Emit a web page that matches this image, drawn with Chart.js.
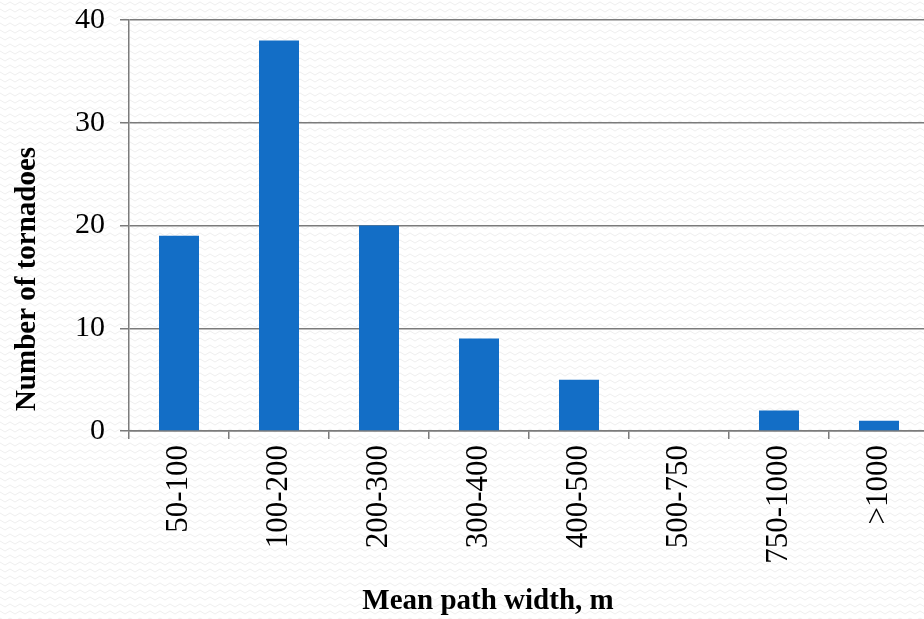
<!DOCTYPE html>
<html>
<head>
<meta charset="utf-8">
<script src="https://cdn.jsdelivr.net/npm/chart.js@4/dist/chart.umd.min.js"></script>
<style>
  html, body { margin: 0; padding: 0; overflow: hidden; background: #fff; }
  #c { display: block; }
</style>
</head>
<body>
<canvas id="c" width="932" height="619"></canvas>
<script>
const widthClasses = ["50-100", "100-200", "200-300", "300-400", "400-500", "500-750", "750-1000", ">1000"];
const tornadoCounts = [19, 38, 20, 9, 5, 0, 2, 1];
const countTicks = [0, 10, 20, 30, 40];

const serif = "'Liberation Serif', 'Times New Roman', serif";
const gridGray = '#7b7b7b';

// faint wavy paper texture behind everything
const paperBackground = {
    id: 'paperBackground',
    beforeDraw(chart) {
        const ctx = chart.ctx;
        ctx.save();
        ctx.fillStyle = '#ffffff';
        ctx.fillRect(0, 0, chart.width, chart.height);
        ctx.strokeStyle = '#efefef';
        ctx.lineWidth = 1;
        for (let y = 2; y < chart.height; y += 7) {
            ctx.beginPath();
            for (let x = 0; x <= chart.width; x += 5) {
                const yy = y + ((x / 5) % 2 === 0 ? 0 : 3);
                if (x === 0) ctx.moveTo(x, yy); else ctx.lineTo(x, yy);
            }
            ctx.stroke();
        }
        ctx.restore();
    }
};

// axis titles sit off-centre from the plot, so place them by hand
const axisTitles = {
    id: 'axisTitles',
    afterDraw(chart) {
        const ctx = chart.ctx;
        ctx.save();
        ctx.fillStyle = '#000';
        ctx.font = 'bold 29px ' + serif;
        ctx.textAlign = 'center';
        ctx.textBaseline = 'alphabetic';
        ctx.fillText('Mean path width, m', 488, 609);
        ctx.translate(35, 279);
        ctx.rotate(-Math.PI / 2);
        ctx.fillText('Number of tornadoes', 0, 0);
        ctx.restore();
    }
};

const ctx = document.getElementById('c').getContext('2d');

new Chart(ctx, {
    type: 'bar',
    data: {
        labels: widthClasses,
        datasets: [{
            data: tornadoCounts,
            backgroundColor: '#136ec6',
            borderWidth: 0,
            barPercentage: 0.4,
            categoryPercentage: 1.0
        }]
    },
    options: {
        responsive: false,
        animation: false,
        layout: { padding: { top: 20, right: 3, left: 1, bottom: 0 } },
        plugins: {
            legend: { display: false },
            tooltip: { enabled: false }
        },
        scales: {
            x: {
                afterFit(scale) {
                    scale.height = 188;
                    scale.paddingLeft = 0;
                    scale.paddingRight = 0;
                },
                grid: {
                    drawOnChartArea: false,
                    drawTicks: true,
                    tickLength: 8,
                    color: gridGray,
                    lineWidth: 1.5
                },
                border: { color: gridGray, width: 1.5 },
                ticks: {
                    color: '#000',
                    font: { family: serif, size: 31 },
                    minRotation: 90,
                    maxRotation: 90,
                    padding: 6,
                    autoSkip: false
                }
            },
            y: {
                min: 0,
                max: 40,
                afterFit(scale) {
                    scale.width = 128;
                    scale.paddingTop = 0;
                    scale.paddingBottom = 0;
                },
                afterBuildTicks(scale) {
                    scale.ticks = countTicks.map(v => ({ value: v }));
                },
                grid: {
                    color: gridGray,
                    lineWidth: 1.5,
                    tickLength: 9
                },
                border: { color: gridGray, width: 1.5 },
                ticks: {
                    color: '#000',
                    font: { family: serif, size: 30 },
                    padding: 15
                }
            }
        }
    },
    plugins: [paperBackground, axisTitles]
});
</script>
</body>
</html>
